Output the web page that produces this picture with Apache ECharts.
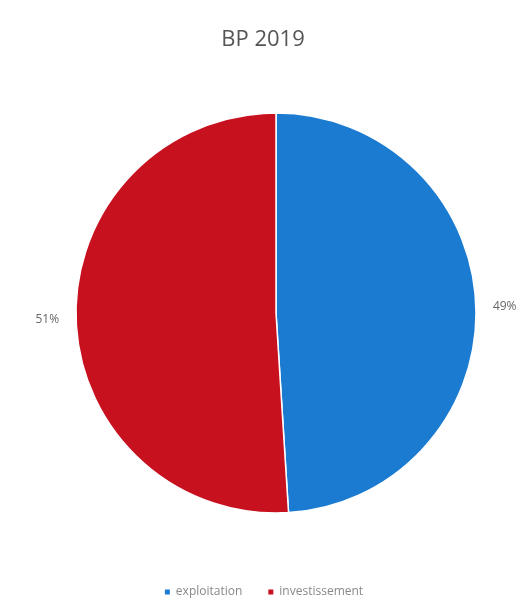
<!DOCTYPE html>
<html>
<head>
<meta charset="utf-8">
<script src="https://cdn.jsdelivr.net/npm/echarts@6/dist/echarts.min.js"></script>
<style>
  html, body { margin: 0; padding: 0; background: #fff; }
  #chart { width: 526px; height: 604px; }
</style>
</head>
<body>
<div id="chart"></div>
<script>
const categories = ['exploitation', 'investissement'];
const values = [49, 51];
const colors = ['#1a7bd0', '#c8111f'];

const chart = echarts.init(document.getElementById('chart'));
chart.setOption({
  backgroundColor: '#fff',
  title: {
    text: 'BP 2019',
    left: 'center',
    top: 24,
    textStyle: { fontFamily: 'Open Sans', fontSize: 22, fontWeight: 'normal', color: '#555' }
  },
  legend: {
    bottom: 1,
    left: 'center',
    icon: 'rect',
    itemWidth: 7,
    itemHeight: 7,
    itemGap: 24,
    textStyle: { fontFamily: 'Open Sans', fontSize: 12, color: '#888' },
    data: categories
  },
  series: [{
    type: 'pie',
    center: [276, 313],
    radius: 200,
    startAngle: 90,
    clockwise: true,
    color: colors,
    data: categories.map((c, i) => ({ name: c, value: values[i] })),
    itemStyle: { borderColor: '#fff', borderWidth: 1.5 },
    label: {
      show: true,
      position: 'outside',
      formatter: '{d}%',
      overflow: 'none',
      fontFamily: 'Open Sans',
      fontSize: 12,
      color: '#666'
    },
    labelLine: { show: false, length: 6, length2: 6 }
  }]
});
</script>
</body>
</html>
